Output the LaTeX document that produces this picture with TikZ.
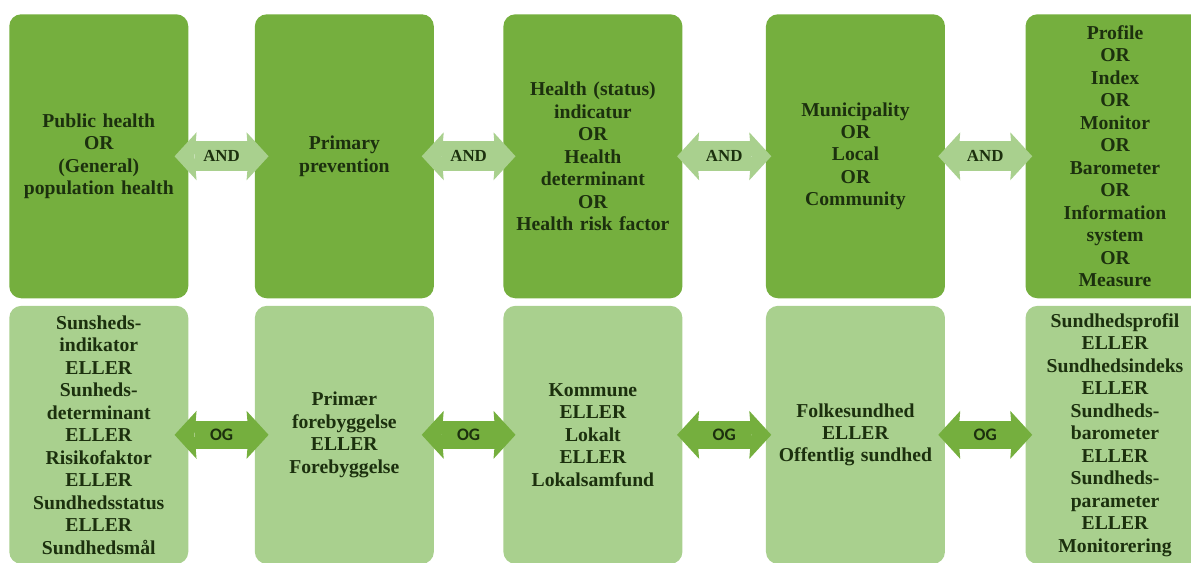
\documentclass[tikz,border=0pt]{standalone}
\usepackage{fontspec}
\setmainfont{Liberation Serif}
\newfontfamily\ogfont{Carlito}
\usetikzlibrary{arrows.meta, positioning}

\definecolor{darkgreen}{RGB}{117,175,62}
\definecolor{lightgreen}{RGB}{169,208,142}
\definecolor{textgreen}{RGB}{28,48,14}

\begin{document}
\begin{tikzpicture}[
    topbox/.style={rectangle, fill=darkgreen, rounded corners=0.3cm, minimum width=4.475cm, minimum height=7.1cm, inner sep=0pt, text width=4.3cm, align=center, text=textgreen, font=\bfseries\fontsize{14}{16}\selectfont},
    botbox/.style={topbox, fill=lightgreen, minimum height=6.45cm},
    andlink/.style={draw=lightgreen, line width=0.75cm, arrows={Stealth[width=1.2cm, length=0.55cm, inset=0.05cm, line width=0pt 0 0]-Stealth[width=1.2cm, length=0.55cm, inset=0.05cm, line width=0pt 0 0]}},
    oglink/.style={andlink, draw=darkgreen, line width=0.7cm},
    andlbl/.style={text=textgreen, font=\bfseries\fontsize{12}{14}\selectfont},
    oglbl/.style={text=textgreen, font=\ogfont\bfseries\fontsize{12.5}{14}\selectfont}
]
    \useasboundingbox (0,0) rectangle (29.775,-14.05);
    \clip (0,0) rectangle (29.775,-14.05);

    % English search terms
    \node[topbox, anchor=north west] (pub) at (0.225,-0.35) {Public health\\OR\\(General)\\population health};
    \node[topbox, right=1.65cm of pub] (prim) {Primary\\prevention};
    \node[topbox, right=1.725cm of prim] (indic) {Health (status)\\indicatur\\OR\\Health\\determinant\\OR\\Health risk factor};
    \node[topbox, right=2.075cm of indic] (muni) {Municipality\\OR\\Local\\OR\\Community};
    \node[topbox, right=2cm of muni] (prof) {Profile\\OR\\Index\\OR\\Monitor\\OR\\Barometer\\OR\\Information\\system\\OR\\Measure};

    % Danish search terms
    \node[botbox, below=0.175cm of pub] (sind) {Sunsheds-\\indikator\\ELLER\\Sunheds-\\determinant\\ELLER\\Risikofaktor\\ELLER\\Sundhedsstatus\\ELLER\\Sundhedsmål};
    \node[botbox, below=0.175cm of prim] (forb) {Primær\\forebyggelse\\ELLER\\Forebyggelse};
    \node[botbox, below=0.175cm of indic] (komm) {Kommune\\ELLER\\Lokalt\\ELLER\\Lokalsamfund};
    \node[botbox, below=0.175cm of muni] (folk) {Folkesundhed\\ELLER\\Offentlig sundhed};
    \node[botbox, below=0.175cm of prof] (sprof) {Sundhedsprofil\\ELLER\\Sundhedsindeks\\ELLER\\Sundheds-\\barometer\\ELLER\\Sundheds-\\parameter\\ELLER\\Monitorering};

    \draw[andlink] ([xshift=-0.35cm]pub.east) -- node[andlbl] {AND} ([xshift=0.35cm]prim.west);
    \draw[andlink] ([xshift=-0.31cm]prim.east) -- node[andlbl] {AND} ([xshift=0.31cm]indic.west);
    \draw[andlink] ([xshift=-0.14cm]indic.east) -- node[andlbl] {AND} ([xshift=0.14cm]muni.west);
    \draw[andlink] ([xshift=-0.175cm]muni.east) -- node[andlbl] {AND} ([xshift=0.175cm]prof.west);

    \draw[oglink] ([xshift=-0.35cm]sind.east) -- node[oglbl] {OG} ([xshift=0.35cm]forb.west);
    \draw[oglink] ([xshift=-0.31cm]forb.east) -- node[oglbl] {OG} ([xshift=0.31cm]komm.west);
    \draw[oglink] ([xshift=-0.14cm]komm.east) -- node[oglbl] {OG} ([xshift=0.14cm]folk.west);
    \draw[oglink] ([xshift=-0.175cm]folk.east) -- node[oglbl] {OG} ([xshift=0.175cm]sprof.west);
\end{tikzpicture}
\end{document}
